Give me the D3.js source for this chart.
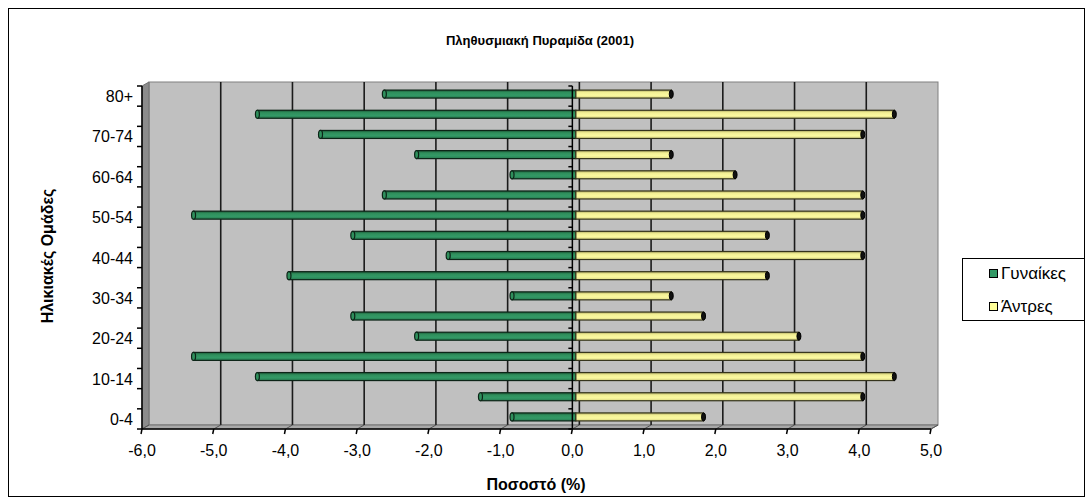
<!DOCTYPE html>
<html>
<head>
<meta charset="utf-8">
<script src="https://cdn.jsdelivr.net/npm/d3@7"></script>
<style>
body { margin: 0; background: #fff; }
text { font-family: "Liberation Sans", Arial, sans-serif; }
</style>
</head>
<body>
<div class="chart"></div>
<script>
// age groups bottom -> top
const ageGroups = ['0-4','5-9','10-14','15-19','20-24','25-29','30-34','35-39','40-44',
  '45-49','50-54','55-59','60-64','65-69','70-74','75-79','80+']
const women = [-0.89,-1.33,-4.44,-5.33,-2.22,-3.11,-0.89,-4.00,-1.78,
  -3.11,-5.33,-2.67,-0.89,-2.22,-3.56,-4.44,-2.67]
const men = [1.78,4.00,4.44,4.00,3.11,1.78,1.33,2.67,4.00,
  2.67,4.00,4.00,2.22,1.33,4.00,4.44,1.33]
const xTicks = [-6,-5,-4,-3,-2,-1,0,1,2,3,4,5]
const seriesNames = ['Γυναίκες','Άντρες']

const W = 1086, H = 504
const dx = 7, dy = -4   // 3d depth offset

const svg = d3.select('.chart').append('svg')
  .attr('width', W)
  .attr('height', H)

const defs = svg.append('defs')
const gGreen = defs.append('linearGradient').attr('id','gGreen').attr('x1',0).attr('x2',0).attr('y1',0).attr('y2',1)
gGreen.append('stop').attr('offset','0%').attr('stop-color','#1d5a39')
gGreen.append('stop').attr('offset','30%').attr('stop-color','#2f8f5c')
gGreen.append('stop').attr('offset','65%').attr('stop-color','#339966')
gGreen.append('stop').attr('offset','100%').attr('stop-color','#26794e')
const gYellow = defs.append('linearGradient').attr('id','gYellow').attr('x1',0).attr('x2',0).attr('y1',0).attr('y2',1)
gYellow.append('stop').attr('offset','0%').attr('stop-color','#aeaa62')
gYellow.append('stop').attr('offset','30%').attr('stop-color','#f2ef94')
gYellow.append('stop').attr('offset','65%').attr('stop-color','#fbf9a0')
gYellow.append('stop').attr('offset','100%').attr('stop-color','#d9d580')

// chart border
svg.append('rect')
  .attr('x', 8.5).attr('y', 8.5)
  .attr('width', 1076).attr('height', 488)
  .attr('fill', 'white')
  .attr('stroke', 'black')

const x = d3.scaleLinear().domain([-6,5]).range([142,931])
const y = d3.scaleBand().domain(ageGroups).range([429,86])
const bw = y.bandwidth()

const locale = d3.formatLocale({decimal: ',', thousands: '.', grouping: [3], currency: ['', '€'], minus: '-'})
const fmt = locale.format('.1f')

// walls
const x0 = x.range()[0], x1 = x.range()[1], yTop = 86, yBot = 429
svg.append('rect')
  .attr('x', x0+dx).attr('y', yTop+dy)
  .attr('width', x1-x0).attr('height', yBot-yTop)
  .attr('fill', '#c0c0c0')
  .attr('stroke', '#808080')
svg.append('path')
  .attr('d', `M${x0},${yTop} L${x0+dx},${yTop+dy} L${x0+dx},${yBot+dy} L${x0},${yBot} Z`)
  .attr('fill', '#8c8c8c')
  .attr('stroke', '#707070')
svg.append('path')
  .attr('d', `M${x0},${yBot} L${x0+dx},${yBot+dy} L${x1+dx},${yBot+dy} L${x1},${yBot} Z`)
  .attr('fill', '#a8a8a8')
  .attr('stroke', '#707070')

// gridlines on back wall
svg.selectAll('.grid')
  .data(xTicks.slice(1, -1))
  .enter()
  .append('line')
  .attr('class','grid')
  .attr('x1', d => x(d)+dx).attr('x2', d => x(d)+dx)
  .attr('y1', yTop+dy).attr('y2', yBot+dy)
  .attr('stroke', '#1a1a1a')
  .attr('stroke-width', 1.6)

// floor tick slants
svg.selectAll('.slant')
  .data(xTicks)
  .enter()
  .append('line')
  .attr('x1', d => x(d)).attr('x2', d => x(d)+dx)
  .attr('y1', yBot).attr('y2', yBot+dy)
  .attr('stroke', '#555')

const bh = 8
const barY = d => y(d) + bw/2 - bh/2 + dy/2

// bars - women
svg.selectAll('.women')
  .data(ageGroups)
  .enter()
  .append('rect')
  .attr('class','women')
  .attr('x', (d,i) => x(women[i]) + dx/2)
  .attr('y', d => barY(d))
  .attr('width', (d,i) => x(0) - x(women[i]))
  .attr('height', bh)
  .attr('fill', 'url(#gGreen)')
  .attr('stroke', '#0c2417')
  .attr('stroke-width', 1.2)
svg.selectAll('.wcap')
  .data(ageGroups)
  .enter()
  .append('ellipse')
  .attr('cx', (d,i) => x(women[i]) + dx/2)
  .attr('cy', d => barY(d) + bh/2)
  .attr('rx', 2).attr('ry', bh/2)
  .attr('fill', '#2f8f5c')
  .attr('stroke', '#0c2417')
  .attr('stroke-width', 1.2)

// bars - men
svg.selectAll('.men')
  .data(ageGroups)
  .enter()
  .append('rect')
  .attr('class','men')
  .attr('x', x(0) + dx/2)
  .attr('y', d => barY(d))
  .attr('width', (d,i) => x(men[i]) - x(0))
  .attr('height', bh)
  .attr('fill', 'url(#gYellow)')
  .attr('stroke', '#35341c')
  .attr('stroke-width', 1.2)
svg.selectAll('.mcap')
  .data(ageGroups)
  .enter()
  .append('ellipse')
  .attr('cx', (d,i) => x(men[i]) + dx/2)
  .attr('cy', d => barY(d) + bh/2)
  .attr('rx', 2).attr('ry', bh/2)
  .attr('fill', '#111')
  .attr('stroke', '#000')

// zero axis with ticks
const bounds = ageGroups.map(d => y(d)).concat([yBot])
svg.append('line')
  .attr('x1', x(0)).attr('x2', x(0))
  .attr('y1', yTop).attr('y2', yBot)
  .attr('stroke', 'black').attr('stroke-width', 1.5)
svg.selectAll('.ztick')
  .data(bounds)
  .enter()
  .append('line')
  .attr('x1', x(0)-4).attr('x2', x(0))
  .attr('y1', d => d).attr('y2', d => d)
  .attr('stroke', 'black').attr('stroke-width', 1.5)

// left category axis
svg.append('line')
  .attr('x1', x0).attr('x2', x0)
  .attr('y1', yTop).attr('y2', yBot)
  .attr('stroke', 'black').attr('stroke-width', 1.5)
svg.selectAll('.ytick')
  .data(bounds)
  .enter()
  .append('line')
  .attr('x1', x0-5).attr('x2', x0)
  .attr('y1', d => d).attr('y2', d => d)
  .attr('stroke', 'black').attr('stroke-width', 1.5)
svg.selectAll('.ylabel')
  .data(ageGroups.filter((d,i) => i % 2 == 0))
  .enter()
  .append('text')
  .text(d => d)
  .attr('x', 133)
  .attr('y', d => y(d) + bw/2 + 6)
  .attr('font-size', 16)
  .attr('text-anchor', 'end')

// value axis
svg.append('line')
  .attr('x1', x0).attr('x2', x1)
  .attr('y1', yBot).attr('y2', yBot)
  .attr('stroke', 'black').attr('stroke-width', 1.5)
svg.selectAll('.xtick')
  .data(xTicks)
  .enter()
  .append('line')
  .attr('x1', d => x(d)).attr('x2', d => x(d)-1)
  .attr('y1', yBot).attr('y2', yBot+5)
  .attr('stroke', 'black').attr('stroke-width', 1.5)
svg.selectAll('.xlabel')
  .data(xTicks)
  .enter()
  .append('text')
  .text(d => fmt(d))
  .attr('x', d => x(d))
  .attr('y', 456)
  .attr('font-size', 16)
  .attr('text-anchor', 'middle')

// titles
svg.append('text')
  .text('Πληθυσμιακή Πυραμίδα (2001)')
  .attr('x', 540).attr('y', 45)
  .attr('font-size', 13).attr('font-weight', 'bold')
  .attr('text-anchor', 'middle')
svg.append('text')
  .text('Ποσοστό (%)')
  .attr('x', 536).attr('y', 490)
  .attr('font-size', 16).attr('font-weight', 'bold')
  .attr('text-anchor', 'middle')
svg.append('text')
  .text('Ηλικιακές Ομάδες')
  .attr('transform', 'translate(53,256) rotate(-90)')
  .attr('font-size', 16).attr('font-weight', 'bold')
  .attr('text-anchor', 'middle')

// legend
const legend = svg.append('g')
legend.append('rect')
  .attr('x', 962.5).attr('y', 258.5)
  .attr('width', 122).attr('height', 62)
  .attr('fill', 'white').attr('stroke', 'black')
const legColors = ['#339966', '#ffff99']
seriesNames.forEach((name, i) => {
  legend.append('rect')
    .attr('x', 989.5).attr('y', 269.5 + i*33)
    .attr('width', 8).attr('height', 8)
    .attr('fill', legColors[i]).attr('stroke', 'black')
  legend.append('text')
    .text(name)
    .attr('x', 1001).attr('y', 279 + i*33)
    .attr('font-size', 17)
})
</script>
</body>
</html>
